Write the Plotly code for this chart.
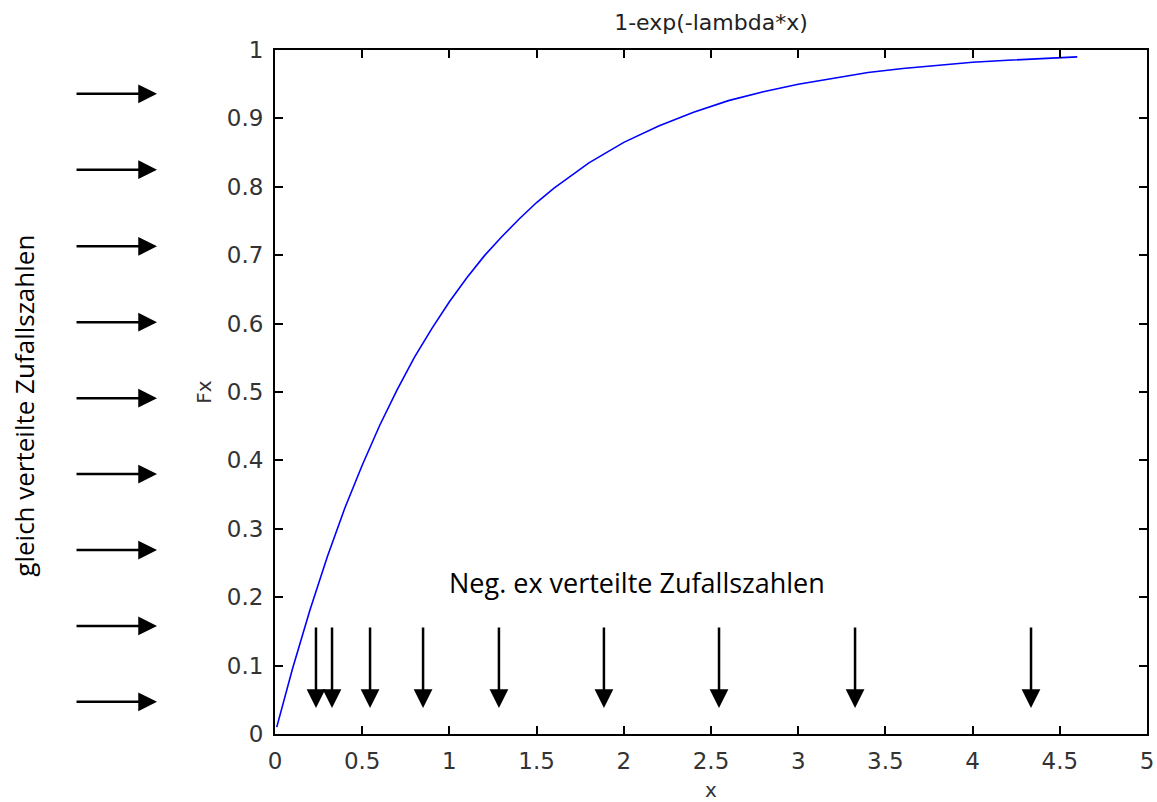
import plotly.graph_objects as go

# Curve: F(x) = 1-exp(-lambda*x)
curve_x = [0.01, 0.1, 0.2, 0.3, 0.4, 0.5, 0.6, 0.7, 0.8, 0.9, 1.0, 1.1, 1.2, 1.3, 1.4,
           1.5, 1.6, 1.7, 1.8, 1.9, 2.0, 2.2, 2.4, 2.6, 2.8, 3.0, 3.2, 3.4, 3.6, 3.8,
           4.0, 4.2, 4.4, 4.6]
curve_y = [0.010, 0.095, 0.181, 0.259, 0.330, 0.393, 0.451, 0.503, 0.551, 0.593, 0.632,
           0.667, 0.699, 0.727, 0.753, 0.777, 0.798, 0.817, 0.835, 0.850, 0.865, 0.889,
           0.909, 0.926, 0.939, 0.950, 0.959, 0.967, 0.973, 0.978, 0.982, 0.985, 0.988,
           0.990]

# Uniform random numbers (horizontal arrows, y level)
uniform_levels = [0.047, 0.158, 0.269, 0.380, 0.491, 0.602, 0.713, 0.825, 0.936]
# Negative-exponential random numbers (vertical arrows, x position)
negexp_values = [0.235, 0.327, 0.545, 0.849, 1.284, 1.886, 2.546, 3.326, 4.335]

x_ticks = [0, 0.5, 1, 1.5, 2, 2.5, 3, 3.5, 4, 4.5, 5]
x_ticklabels = ["0", "0.5", "1", "1.5", "2", "2.5", "3", "3.5", "4", "4.5", "5"]
y_ticks = [0, 0.1, 0.2, 0.3, 0.4, 0.5, 0.6, 0.7, 0.8, 0.9, 1]
y_ticklabels = ["0", "0.1", "0.2", "0.3", "0.4", "0.5", "0.6", "0.7", "0.8", "0.9", "1"]

title_text = "1-exp(-lambda*x)"
x_label = "x"
y_label = "Fx"
neg_label = "Neg. ex verteilte Zufallszahlen"
uni_label = "gleich verteilte Zufallszahlen"

tick_font = dict(family="DejaVu Sans", size=23, color="#333333")

fig = go.Figure()
fig.add_trace(go.Scatter(x=curve_x, y=curve_y, mode="lines",
                         line=dict(color="#0000ff", width=1.6), showlegend=False,
                         hoverinfo="skip"))

annotations = []
arrow_style = dict(showarrow=True, arrowhead=2, arrowsize=1.5, arrowwidth=2.5,
                   arrowcolor="black", text="", standoff=0)
for xv in negexp_values:
    annotations.append(dict(x=xv, y=0.038, xref="x", yref="y",
                            ax=0, ay=-82, axref="pixel", ayref="pixel", **arrow_style))
for yv in uniform_levels:
    annotations.append(dict(x=-0.1353, y=yv, xref="paper", yref="y",
                            ax=-82, ay=0, axref="pixel", ayref="pixel", **arrow_style))

annotations.append(dict(x=2.076, y=0.222, xref="x", yref="y", text=neg_label,
                        showarrow=False, xanchor="center", yanchor="middle",
                        font=dict(family="Open Sans", size=27, color="black")))
annotations.append(dict(x=-0.2878, y=0.48, xref="paper", yref="paper", text=uni_label,
                        showarrow=False, textangle=-90, xanchor="center",
                        yanchor="middle", borderpad=0,
                        font=dict(family="Open Sans", size=26, color="black")))

fig.update_layout(
    width=1157, height=802,
    margin=dict(l=275, r=10, t=50, b=68, pad=0),
    paper_bgcolor="white", plot_bgcolor="white",
    title=dict(text=title_text, x=0.6145, xanchor="center", y=0.9726, yanchor="middle",
               font=dict(family="DejaVu Sans", size=22, color="#222222")),
    annotations=annotations,
    showlegend=False,
)
fig.update_xaxes(range=[0, 5], tickvals=x_ticks, ticktext=x_ticklabels,
                 ticks="inside", ticklen=8, tickwidth=1.5, tickcolor="black",
                 showline=True, linecolor="black", linewidth=2, mirror="ticks",
                 showgrid=False, zeroline=False, tickfont=tick_font,
                 ticklabelstandoff=5, automargin=False,
                 title=dict(text=x_label, font=dict(family="DejaVu Sans", size=20,
                                                    color="#333333"), standoff=12))
fig.update_yaxes(range=[0, 1], tickvals=y_ticks, ticktext=y_ticklabels,
                 ticks="inside", ticklen=8, tickwidth=1.5, tickcolor="black",
                 showline=True, linecolor="black", linewidth=2, mirror="ticks",
                 showgrid=False, zeroline=False, tickfont=tick_font,
                 ticklabelstandoff=5, automargin=False,
                 title=dict(text=y_label, font=dict(family="DejaVu Sans", size=20,
                                                    color="#333333"), standoff=10))

# remove the page's default 8px body margin so the figure sits at (0, 0)
fig.write_html("out.html", config={"displayModeBar": False},
               post_script="document.body.style.margin='0';")
